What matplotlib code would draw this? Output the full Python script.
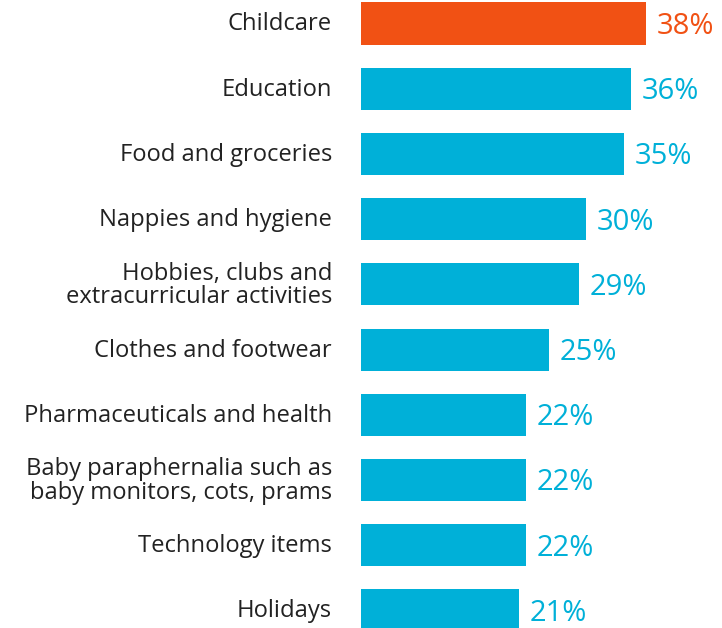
import matplotlib
matplotlib.use("Agg")
import matplotlib.pyplot as plt
import matplotlib.transforms as mtransforms

categories = [
    "Childcare",
    "Education",
    "Food and groceries",
    "Nappies and hygiene",
    "Hobbies, clubs and\nextracurricular activities",
    "Clothes and footwear",
    "Pharmaceuticals and health",
    "Baby paraphernalia such as\nbaby monitors, cots, prams",
    "Technology items",
    "Holidays",
]
values = [38, 36, 35, 30, 29, 25, 22, 22, 22, 21]

ORANGE = "#F15114"
BLUE = "#00B0D8"
colors = [ORANGE] + [BLUE] * (len(values) - 1)

plt.rcParams["font.family"] = ["Open Sans", "DejaVu Sans"]

W, H, DPI = 722, 628, 100
fig = plt.figure(figsize=(W / DPI, H / DPI), dpi=DPI)
ax = fig.add_axes([361 / W, 0, 1 - 361 / W, 1])

ypos = list(range(len(values)))
ax.barh(ypos, values, height=0.645, color=colors, left=0)
ax.set_xlim(0, 361 / 7.5)
ax.set_ylim(9.27, -0.36)
ax.axis("off")

label_tr = mtransforms.offset_copy(
    mtransforms.blended_transform_factory(ax.transAxes, ax.transData),
    fig=fig, x=-29, y=-1, units="dots")
val_tr = mtransforms.offset_copy(ax.transData, fig=fig, x=11, y=-3, units="dots")

for y, cat, v, c in zip(ypos, categories, values, colors):
    ax.text(0, y, cat, transform=label_tr, ha="right", va="center",
            fontsize=17.1, color="#222222",
            linespacing=0.95, clip_on=False)
    ax.text(v, y, f"{v}%", transform=val_tr, ha="left", va="center",
            fontsize=21, color=c, clip_on=False)

fig.savefig("out.png", dpi=DPI)
